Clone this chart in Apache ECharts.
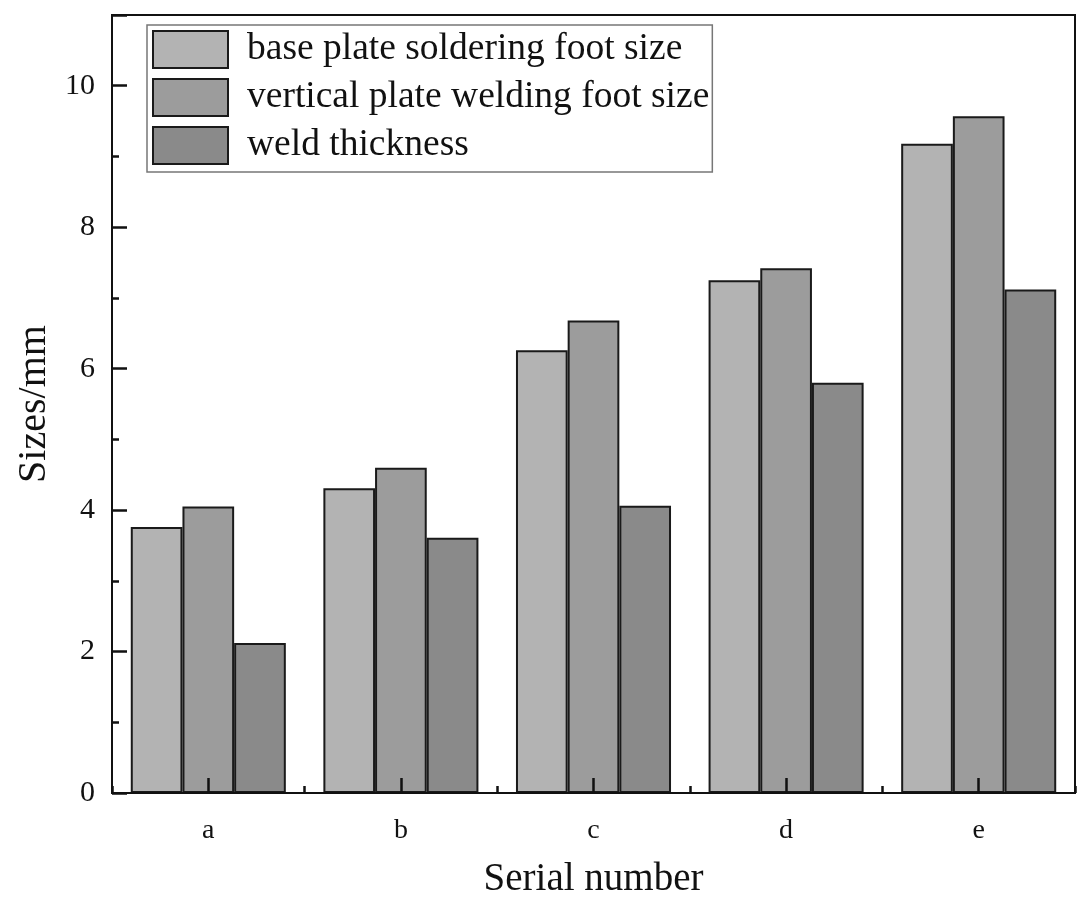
<!DOCTYPE html>
<html>
<head>
<meta charset="utf-8">
<script src="https://cdn.jsdelivr.net/npm/echarts@6/dist/echarts.min.js"></script>
<style>html,body{margin:0;padding:0;background:#fff}#c{width:1079px;height:906px}</style>
</head>
<body>
<div id="c"></div>
<script>
const categories = ['a', 'b', 'c', 'd', 'e'];
const seriesNames = ['base plate soldering foot size', 'vertical plate welding foot size', 'weld thickness'];
const baseFoot = [3.76, 4.31, 6.26, 7.25, 9.18];
const verticalFoot = [4.05, 4.60, 6.68, 7.42, 9.57];
const weldThickness = [2.12, 3.61, 4.06, 5.80, 7.12];
const yTicks = [0, 2, 4, 6, 8, 10];

const colors = ['#b3b3b3', '#9c9c9c', '#8a8a8a'];
const font = 'Liberation Serif';
const chart = echarts.init(document.getElementById('c'));
const values = [baseFoot, verticalFoot, weldThickness];

chart.setOption({
  backgroundColor: '#fff',
  animation: false,
  grid: { left: 112, right: 4, top: 15, bottom: 113, show: true, borderColor: '#111', borderWidth: 2, backgroundColor: 'transparent' },
  legend: {
    orient: 'vertical', left: 147, top: 25,
    icon: 'rect',
    itemWidth: 75, itemHeight: 37, itemGap: 9,
    padding: [5, 3, 7, 5],
    borderColor: '#777', borderWidth: 1.5,
    textStyle: { fontFamily: font, fontSize: 37.5, lineHeight: 37, color: '#111', padding: [0, 0, 0, 14] },
    data: seriesNames
  },
  xAxis: [{
    type: 'category', data: categories, position: 'bottom', z: 10,
    axisLine: { show: true, lineStyle: { color: '#111', width: 2 } },
    axisTick: { show: true, inside: true, alignWithLabel: true, length: 15, lineStyle: { color: '#111', width: 2.5 } },
    axisLabel: { fontFamily: font, fontSize: 28, color: '#111', margin: 24 },
    name: 'Serial number', nameLocation: 'middle', nameGap: 67,
    nameTextStyle: { fontFamily: font, fontSize: 39, color: '#111' }
  }, {
    type: 'category', data: categories, position: 'bottom', z: 10,
    axisLine: { show: false },
    axisTick: { show: true, inside: true, alignWithLabel: false, length: 7, lineStyle: { color: '#111', width: 2.5 } },
    axisLabel: { show: false }
  }],
  yAxis: {
    type: 'value', min: 0, max: 11, interval: 2, z: 10,
    axisLine: { show: true, lineStyle: { color: '#111', width: 2 } },
    axisTick: { show: true, inside: true, length: 15, lineStyle: { color: '#111', width: 2.5 } },
    minorTick: { show: true, splitNumber: 2, length: 7, lineStyle: { color: '#111', width: 2.5 } },
    splitLine: { show: false },
    axisLabel: {
      fontFamily: font, fontSize: 30, color: '#111', margin: 17,
      formatter: v => (yTicks.indexOf(v) >= 0 ? String(v) : '')
    },
    name: 'Sizes/mm', nameLocation: 'middle', nameGap: 58,
    nameTextStyle: { fontFamily: font, fontSize: 40, color: '#111' }
  },
  series: seriesNames.map((n, i) => ({
    name: n, type: 'bar', data: values[i], xAxisIndex: 0, z: 1,
    barGap: '0%', barCategoryGap: '19.5%',
    itemStyle: { color: colors[i], borderColor: '#1a1a1a', borderWidth: 2 }
  }))
});
</script>
</body>
</html>
